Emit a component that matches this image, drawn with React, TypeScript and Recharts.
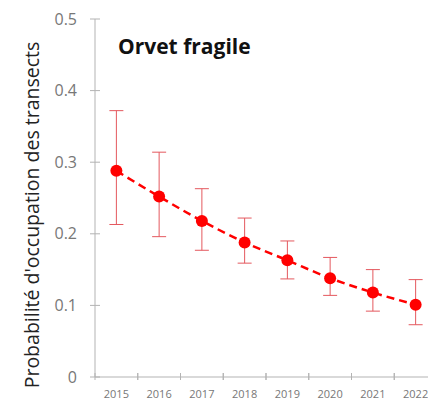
import { LineChart, Line, XAxis, YAxis, ErrorBar } from 'recharts'

const YEARS = ['2015', '2016', '2017', '2018', '2019', '2020', '2021', '2022']
const OCCUPANCY = [0.288, 0.252, 0.218, 0.188, 0.163, 0.138, 0.118, 0.101]
const LOWER = [0.213, 0.196, 0.177, 0.159, 0.137, 0.114, 0.092, 0.073]
const UPPER = [0.372, 0.314, 0.263, 0.222, 0.19, 0.167, 0.15, 0.136]
const Y_TICKS = [0, 0.1, 0.2, 0.3, 0.4, 0.5]

const data = YEARS.map((year, i) => ({
  year,
  p: OCCUPANCY[i],
  err: [OCCUPANCY[i] - LOWER[i], UPPER[i] - OCCUPANCY[i]],
}))

const AXIS = '#b3b3b3'
const FONT = '"Open Sans", "Noto Sans", sans-serif'
const HALF_BAND = 342 / YEARS.length / 2

function XTick({ x, y, payload }: any) {
  return (
    <g>
      <line x1={x - HALF_BAND} x2={x - HALF_BAND} y1={y - 4} y2={y + 3} stroke={AXIS} />
      <line x1={x + HALF_BAND} x2={x + HALF_BAND} y1={y - 4} y2={y + 3} stroke={AXIS} />
      <text x={x} y={y + 21} textAnchor="middle" fontSize={11} fill="#777" fontFamily={FONT}>
        {payload.value}
      </text>
    </g>
  )
}

function YTick({ x, y, payload }: any) {
  return (
    <g>
      <line x1={x - 5} x2={x + 5} y1={y} y2={y} stroke={AXIS} />
      <text x={x - 18} y={y} dy="0.35em" textAnchor="end" fontSize={16} fill="#777" fontFamily={FONT}>
        {payload.value}
      </text>
    </g>
  )
}

function YLabel({ viewBox }: any) {
  const cy = viewBox.y + viewBox.height / 2 + 17
  return (
    <text
      x={31}
      y={cy}
      transform={`rotate(-90, 31, ${cy})`}
      textAnchor="middle"
      dominantBaseline="central"
      fontSize={19.5}
      fill="#222"
      fontFamily={FONT}
    >
      Probabilité d'occupation des transects
    </text>
  )
}

export default function App() {
  return (
    <div
      style={{
        position: 'absolute',
        left: 0,
        top: 0,
        width: 428,
        height: 401,
        overflow: 'hidden',
        background: '#fff',
      }}
    >
      <LineChart
        width={440}
        height={401}
        data={data}
        margin={{ top: 19, right: 3, bottom: 0, left: 0 }}
      >
        <XAxis
          dataKey="year"
          stroke={AXIS}
          tickLine={false}
          tickSize={0}
          tickMargin={0}
          height={24}
          tick={<XTick />}
          interval={0}
          padding={{ left: HALF_BAND, right: HALF_BAND }}
        />
        <YAxis
          domain={[0, 0.5]}
          ticks={Y_TICKS}
          stroke={AXIS}
          tickLine={false}
          tickSize={0}
          tickMargin={0}
          width={95}
          tick={<YTick />}
          label={<YLabel />}
        />
        <Line
          type="monotone"
          dataKey="p"
          stroke="#ff0000"
          strokeWidth={2.5}
          strokeDasharray="8 5"
          dot={{ r: 6, fill: '#ff0000', stroke: 'none' }}
          isAnimationActive={false}
        >
          <ErrorBar dataKey="err" width={7} stroke="#e4585e" strokeWidth={1} />
        </Line>
      </LineChart>
      <div
        style={{
          position: 'absolute',
          left: 118,
          top: 32,
          fontFamily: FONT,
          fontWeight: 700,
          fontSize: 21,
          color: '#111',
          lineHeight: '28px',
        }}
      >
        Orvet fragile
      </div>
    </div>
  )
}
